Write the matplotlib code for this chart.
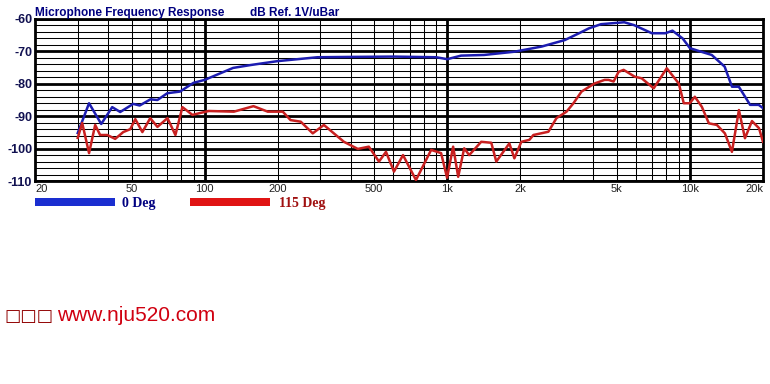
import matplotlib
matplotlib.use("Agg")
import matplotlib.pyplot as plt
from matplotlib.patches import Rectangle

# ====== data ======
blue_freq = [30, 33.4, 37.5, 41.6, 44.9, 50.8, 54, 59.8, 63.9, 70.2,
             79.2, 90, 100, 131, 155, 200, 292, 400, 600, 900,
             1000, 1140, 1418, 1890, 2450, 3050, 3490, 3830, 4300, 5360,
             5890, 6970, 7920, 8470, 9330, 10000, 10900, 12300, 13900, 14900,
             15900, 17700, 19200, 20000]
blue_db = [-95.2, -86, -92.4, -87.2, -88.7, -86.2, -86.7, -84.8, -85, -82.9,
           -82.4, -79.7, -78.8, -75.1, -74.2, -73, -71.8, -71.7, -71.6, -71.8,
           -72.4, -71.3, -71.1, -70.1, -68.5, -66.5, -64.4, -62.9, -61.6, -61.0,
           -61.9, -64.4, -64.4, -63.6, -66, -69, -69.9, -71.1, -74.7, -80.9,
           -80.9, -86.5, -86.5, -87.5]

red_freq = [30, 31.3, 33.4, 35.4, 37.1, 39.7, 42.8, 46.2, 49.4, 51.8,
            55.4, 59.7, 63.9, 70.3, 75.8, 81, 89.1, 96, 104, 132,
            159, 182, 210, 226, 249, 279, 310, 375, 428, 475,
            523, 559, 603, 657, 743, 858, 943, 998, 1057, 1109,
            1174, 1231, 1380, 1518, 1592, 1802, 1890, 2019, 2179, 2264,
            2610, 2818, 3100, 3311, 3574, 4044, 4448, 4620, 4846, 5082,
            5330, 5918, 6325, 7091, 8024, 8994, 9431, 9986, 10472, 11194,
            11966, 12912, 13932, 14893, 15916, 16852, 18013, 19254, 20000]
red_db = [-96.7, -92.1, -101.4, -92.7, -95.8, -95.8, -97, -94.9, -94, -90.9,
          -94.9, -90.6, -93.3, -90.6, -95.8, -87.2, -89.6, -89, -88.4, -88.6,
          -86.9, -88.6, -88.6, -91.2, -91.7, -95.3, -92.7, -97.9, -100.1, -99.4,
          -104, -101, -107.1, -102, -109.7, -100.4, -101.4, -109, -99.4, -108.7,
          -99.9, -102, -97.9, -98.2, -104, -98.4, -103, -97.9, -97.3, -95.8,
          -94.8, -90.6, -88.6, -86, -82.4, -79.9, -78.8, -78.8, -79.3, -76.3,
          -75.7, -77.8, -78.3, -81.4, -75.2, -79.9, -86, -86, -84, -87.1,
          -92.2, -92.7, -95.3, -101, -88.1, -96.8, -91.5, -93.7, -97.9]

x_ticks = [20, 50, 100, 200, 500, 1000, 2000, 5000, 10000, 20000]
x_labels = ["20", "50", "100", "200", "500", "1k", "2k", "5k", "10k", "20k"]
y_ticks = [-60, -70, -80, -90, -100, -110]

W, H = 770, 384
fig = plt.figure(figsize=(W / 100, H / 100), dpi=100)
fig.patch.set_facecolor("white")
ax = fig.add_axes([35 / W, 1 - 181 / H, 728 / W, 162 / H])
ax.set_xscale("log")
ax.set_xlim(20, 20000)
ax.set_ylim(-110, -60)

# ====== grid ======
minor_f = [m * d for d in (10, 100, 1000, 10000) for m in range(2, 10) if 20 <= m * d <= 20000]
for f in minor_f:
    ax.axvline(f, color="black", lw=0.75, zorder=1)
for f in (100, 1000, 10000):
    ax.axvline(f, color="black", lw=2.0, zorder=1)
for v in range(-110, -59, 2):
    ax.axhline(v, color="black", lw=2.0 if v % 10 == 0 else 0.75, zorder=1)

ax.plot(blue_freq, blue_db, color="#1c1cb0", lw=1.8, zorder=3)
ax.plot(red_freq, red_db, color="#c82020", lw=1.8, zorder=3)

for s in ax.spines.values():
    s.set_linewidth(2.0)
ax.minorticks_off()
ax.tick_params(length=0, pad=2)
ax.set_xticks(x_ticks)
ax.set_xticklabels(x_labels, fontsize=8, family="Liberation Sans", color="#202020")
xl = ax.get_xticklabels()
xl[0].set_horizontalalignment("left")
xl[-1].set_horizontalalignment("right")
ax.set_yticks(y_ticks)
ax.set_yticklabels([str(v) for v in y_ticks], fontsize=9, fontweight="bold",
                   family="Liberation Sans", color="#101050")

# ====== title ======
fig.text(35 / W, 1 - 16 / H, "Microphone Frequency Response", fontsize=8.5, fontweight="bold",
         family="Liberation Sans", color="#000080", va="baseline")
fig.text(250 / W, 1 - 16 / H, "dB Ref. 1V/uBar", fontsize=8.5, fontweight="bold",
         family="Liberation Sans", color="#000080", va="baseline")

# ====== legend ======
fig.add_artist(Rectangle((35 / W, 1 - 206 / H), 80 / W, 8 / H, transform=fig.transFigure,
                         color="#1a2ed0", lw=0))
fig.text(122 / W, 1 - 207 / H, "0 Deg", fontsize=10, fontweight="bold", family="Liberation Serif",
         color="#000080", va="baseline")
fig.add_artist(Rectangle((190 / W, 1 - 206 / H), 80 / W, 8 / H, transform=fig.transFigure,
                         color="#e01414", lw=0))
fig.text(279 / W, 1 - 207 / H, "115 Deg", fontsize=10, fontweight="bold", family="Liberation Serif",
         color="#a01010", va="baseline")

# ====== footer ======
fig.text(4 / W, 1 - 321 / H, "□□□", fontsize=12.5, family="DejaVu Sans", color="#900000", va="baseline")
fig.text(57 / W, 1 - 321 / H, "www.nju520.com", fontsize=15, family="Liberation Sans",
         color="#d00010", va="baseline")

fig.savefig("out.png", dpi=100)
